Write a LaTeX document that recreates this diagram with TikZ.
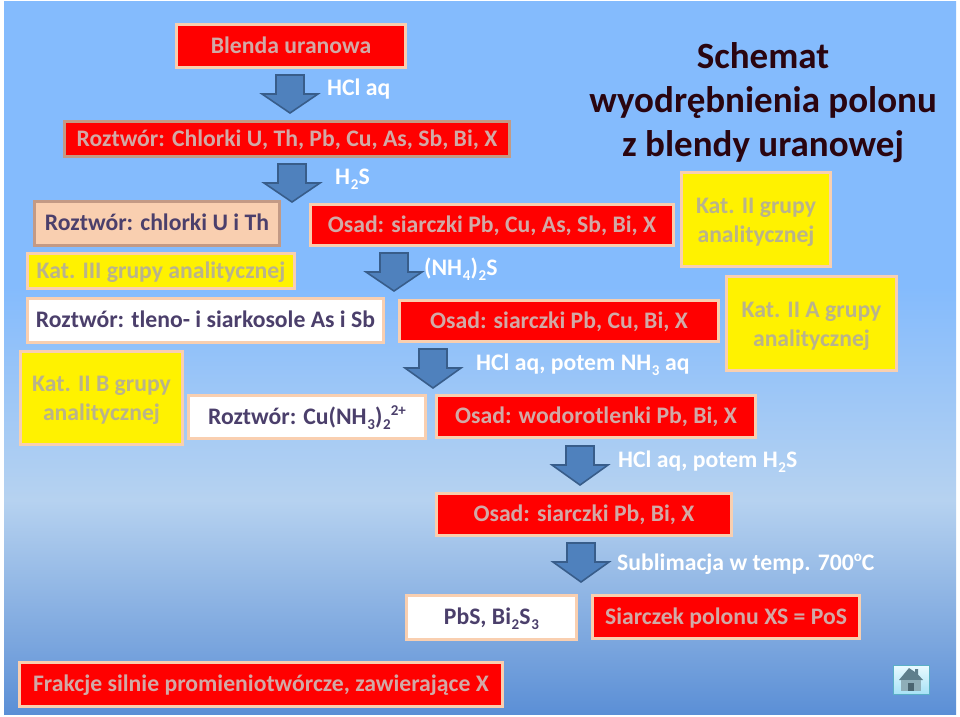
\documentclass[tikz,border=0pt]{standalone}
\usepackage{fontspec}
\setmainfont{Carlito}
\usetikzlibrary{calc}
\definecolor{redtxt}{HTML}{D2A9A6}
\definecolor{yeltxt}{HTML}{B9B38C}
\definecolor{whitetxt}{HTML}{4B3F6B}
\definecolor{peach}{HTML}{F9CFB0}
\definecolor{tanb}{HTML}{C39A85}
\definecolor{bg0}{HTML}{5B8FD6}
\definecolor{bg1}{HTML}{7BA6DE}
\definecolor{bg3}{HTML}{B6D2F0}
\definecolor{bg4}{HTML}{84BBFD}
\pgfdeclareverticalshading{bgshade}{100bp}{color(0bp)=(bg0); color(25bp)=(bg0); color(30bp)=(bg1); color(40bp)=(bg3); color(55bp)=(bg4); color(75bp)=(bg4); color(100bp)=(bg4)}
\newcommand{\sbs}[1]{\hspace{.6pt}\raisebox{-.45ex}{\fontsize{15}{16}\selectfont #1}\hspace{.2pt}}
\newcommand{\sps}[1]{\raisebox{.75ex}{\fontsize{15}{16}\selectfont #1}}
\newcommand{\bx}[7]{\node[#1,minimum width={(#5-#3-2.6)*1pt},minimum height={(#6-#4-2.6)*1pt}] (#2) at ({(#3+#5)/2},{(#4+#6)/2}) {#7};}
\newcommand{\blockarrow}[3]{\draw[blockar] (#1-14,#2) -- (#1+14,#2) -- (#1+14,#2+19) -- (#1+28,#2+19) -- (#1,#3) -- (#1-28,#2+19) -- (#1-14,#2+19) -- cycle;}
\tikzset{
  x=1pt,y=-1pt,
  anybox/.style={rectangle,inner sep=0pt,line width=2.6pt,font=\fontsize{23.7}{28}\selectfont\bfseries,align=center},
  redbox/.style={anybox,fill=red,draw=peach,text=redtxt,text height=16pt,text depth=2pt},
  redboxb/.style={redbox,draw=tanb},
  whitebox/.style={anybox,fill=white,draw=peach,text=whitetxt,text height=16pt,text depth=2pt},
  tanbox/.style={anybox,fill=peach,draw=tanb,text=whitetxt,text height=16pt,text depth=2pt},
  yelbox/.style={anybox,fill=yellow,draw=peach,text=yeltxt,text height=16pt,text depth=2pt},
  yelboxm/.style={anybox,fill=yellow,draw=peach,text=yeltxt,font=\fontsize{23.7}{29}\selectfont\bfseries},
  blockar/.style={fill=HTMLblue,draw=HTMLdark,line width=1.6pt,line join=miter},
  freelabel/.style={anchor=base west,inner sep=0pt,text=white,font=\fontsize{23.7}{28}\selectfont\bfseries},
  titlelabel/.style={anchor=base,inner sep=0pt,text=titlecol,font=\fontsize{37}{44}\selectfont\bfseries},
}
\definecolor{HTMLblue}{HTML}{4F81BD}
\definecolor{HTMLdark}{HTML}{385D8A}
\definecolor{titlecol}{HTML}{2A0510}
\definecolor{homeb}{HTML}{5AAFC6}
\definecolor{homet}{HTML}{E8FAFF}
\definecolor{homeo}{HTML}{A6E2F6}
\definecolor{homed}{HTML}{5E7F8C}
\definecolor{homew}{HTML}{8FAEB8}
\begin{document}
\begin{tikzpicture}
\useasboundingbox (0,0) rectangle (960,716);
\fill[white] (0,0) rectangle (960,716);
\shade[shading=bgshade] (4,1) rectangle (956,714);
% title
\node[titlelabel] (t1) at (763,68) {Schemat};
\node[titlelabel] (t2) at (763,112) {wyodrębnienia polonu};
\node[titlelabel] (t3) at (763,156) {z blendy uranowej};
% arrows
\blockarrow{290}{75}{113}
\blockarrow{292}{164}{202}
\blockarrow{394}{253}{291}
\blockarrow{433}{349}{388}
\blockarrow{580}{446}{485}
\blockarrow{581}{543}{582}
% boxes
\bx{redbox}{blenda}{175}{23}{407}{69}{Blenda uranowa}
\bx{redboxb}{chlorki}{63}{120}{511}{158}{Roztwór: Chlorki U, Th, Pb, Cu, As, Sb, Bi, X}
\bx{tanbox}{chlorkiu}{33}{200}{281}{247}{Roztwór: chlorki U i Th}
\bx{yelbox}{kat3}{26}{252}{296}{290}{Kat. III grupy analitycznej}
\bx{redbox}{osad1}{309}{203}{675}{247}{Osad: siarczki Pb, Cu, As, Sb, Bi, X}
\bx{yelboxm}{kat2}{680}{171}{832}{268}{\rule{0pt}{20pt}Kat. II grupy\\analitycznej}
\bx{yelboxm}{kat2a}{725}{275}{898}{372}{\rule{0pt}{20pt}Kat. II A grupy\\analitycznej}
\bx{whitebox}{tleno}{26}{297}{385}{344}{Roztwór: tleno- i siarkosole As i Sb}
\bx{redbox}{osad2}{398}{299}{720}{343}{Osad: siarczki Pb, Cu, Bi, X}
\bx{yelboxm}{kat2b}{19}{350}{184}{446}{\rule{0pt}{20pt}Kat. II B grupy\\analitycznej}
\bx{whitebox}{cu}{187}{394}{427}{440}{Roztwór: Cu(NH\sbs{3})\sbs{2}\sps{2+}}
\bx{redbox}{osad3}{435}{394}{757}{439}{Osad: wodorotlenki Pb, Bi, X}
\bx{redbox}{osad4}{435}{492}{733}{537}{Osad: siarczki Pb, Bi, X}
\bx{whitebox}{pbs}{405}{594}{578}{641}{PbS, Bi\sbs{2}S\sbs{3}}
\bx{redbox}{pos}{591}{594}{861}{640}{Siarczek polonu XS = PoS}
\bx{redbox}{frakcje}{18}{661}{504}{708}{Frakcje silnie promieniotwórcze, zawierające X}
% free labels
\node[freelabel] (l1) at (327,95) {HCl aq};
\node[freelabel] (l2) at (335,184) {H\sbs{2}S};
\node[freelabel] (l3) at (424,275) {(NH\sbs{4})\sbs{2}S};
\node[freelabel] (l4) at (476,370) {HCl aq, potem NH\sbs{3} aq};
\node[freelabel] (l5) at (618,467) {HCl aq, potem H\sbs{2}S};
\node[freelabel] (l6) at (617,570) {Sublimacja w temp. 700\sps{o}C};
% home icon
\shade[top color=homet,bottom color=homeo,draw=homeb,line width=1.2pt] (893.5,665.5) rectangle (929.5,694.5);
\fill[homed] (909,668) -- (915,672) -- (915,669) -- (918,669) -- (918,674.5) -- (923,680) -- (899,680) -- cycle;
\fill[homew] (901,680) rectangle (921,691);
\fill[homed!80!black] (908,683) rectangle (914,691);
\end{tikzpicture}
\end{document}
